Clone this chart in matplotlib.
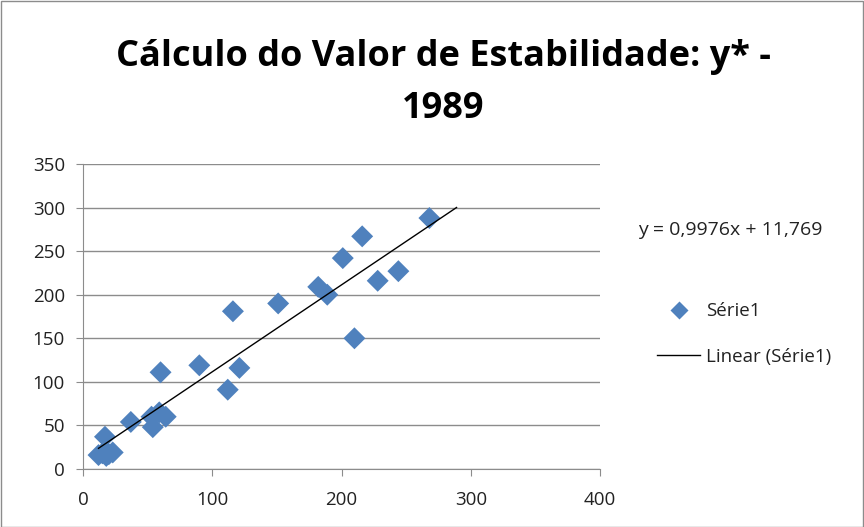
import matplotlib
matplotlib.use("Agg")
import matplotlib.pyplot as plt
from matplotlib.lines import Line2D
import numpy as np

plt.rcParams['font.family'] = ['Open Sans', 'DejaVu Sans']

x_vals = [268, 216, 201, 182, 189, 228, 244, 210, 151, 116, 90, 121, 60, 112,
          37, 53, 54, 59, 64, 17, 12, 18, 23, 15, 20]
y_vals = [288, 267, 242, 209, 200, 216, 227, 150, 190, 181, 119, 116, 111, 91,
          54, 60, 48, 65, 60, 37, 16, 15, 19, 18, 17]
slope = 0.9976
intercept = 11.769
trend_x = [12, 289]
x_ticks = [0, 100, 200, 300, 400]
y_ticks = [0, 50, 100, 150, 200, 250, 300, 350]
title_line1 = "Cálculo do Valor de Estabilidade: y* -"
title_line2 = "1989"
series_name = "Série1"
trend_name = "Linear (Série1)"
eq_text = "y = 0,9976x + 11,769"

W, H = 864, 527
fig = plt.figure(figsize=(W/100, H/100), dpi=100)
ax = fig.add_axes([83/W, 1-469/H, (600-83)/W, (469-164)/H])

color = '#4F81BD'
ax.scatter(x_vals, y_vals, marker='D', s=125, color=color, edgecolors='none', zorder=3)
tx = np.array(trend_x, dtype=float)
ax.plot(tx, slope*tx + intercept, color='black', lw=1.0, zorder=4)

ax.set_xlim(0, 400)
ax.set_ylim(0, 350)
ax.set_xticks(x_ticks)
ax.set_yticks(y_ticks)
ax.yaxis.grid(True, color='#8c8c8c', lw=1.0)
ax.set_axisbelow(True)
for s in ['top', 'right']:
    ax.spines[s].set_visible(False)
for s in ['left', 'bottom']:
    ax.spines[s].set_color('#8c8c8c')
ax.tick_params(axis='both', colors='#8c8c8c', labelcolor='#222222', labelsize=13.5, length=5, direction='out')
ax.tick_params(axis='x', pad=11)
ax.tick_params(axis='y', pad=8)

fig.text(443/W, 1-57/H, title_line1, ha='center', va='center', fontsize=26, fontweight='bold', color='black')
fig.text(443/W, 1-109/H, title_line2, ha='center', va='center', fontsize=26, fontweight='bold', color='black')

fig.text(638/W, 1-230/H, eq_text, ha='left', va='center', fontsize=14, color='#222222')

handles = [Line2D([], [], marker='D', ls='none', color=color, markersize=9, markeredgecolor='none'),
           Line2D([], [], color='black', lw=1.0)]
leg = fig.legend(handles, [series_name, trend_name], loc='center left', bbox_to_anchor=(657/W, 1-334/H),
                 frameon=False, fontsize=13.5, handlelength=2.3, handletextpad=0.3, labelspacing=1.45,
                 borderpad=0, borderaxespad=0)
for t in leg.get_texts():
    t.set_color('#222222')

border = plt.Rectangle((0.5/W, 0.5/H), 1-1.5/W, 1-1.5/H, transform=fig.transFigure, fill=False,
                       edgecolor='#8c8c8c', lw=1.0)
fig.add_artist(border)

fig.savefig('out.png', dpi=100)
